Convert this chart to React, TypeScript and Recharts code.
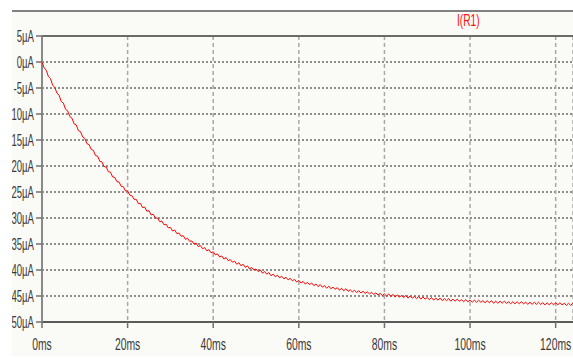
import React from "react";
import {
  LineChart,
  Line,
  XAxis,
  YAxis,
  CartesianGrid,
  ReferenceLine,
} from "recharts";

// simulator export, one sample every 0.5 ms
const SAMPLE_MS = 0.5;

const currentUA = [
  0.0, -1.1, -1.6, -2.8, -3.2, -4.5, -4.9, -6.0, -6.4, -7.6,
  -7.9, -9.1, -9.4, -10.5, -10.8, -11.9, -12.1, -13.2, -13.4, -14.4,
  -14.7, -15.7, -15.9, -16.8, -17.0, -18.0, -18.1, -19.1, -19.2, -20.1,
  -20.2, -21.1, -21.2, -22.1, -22.2, -23.0, -23.1, -23.9, -24.0, -24.8,
  -24.8, -25.6, -25.7, -26.4, -26.4, -27.2, -27.2, -28.0, -27.9, -28.7,
  -28.6, -29.4, -29.3, -30.0, -30.0, -30.7, -30.6, -31.3, -31.2, -31.9,
  -31.8, -32.5, -32.3, -33.0, -32.9, -33.5, -33.4, -34.1, -33.9, -34.5,
  -34.4, -35.0, -34.8, -35.5, -35.3, -35.9, -35.7, -36.3, -36.1, -36.7,
  -36.5, -37.1, -36.9, -37.5, -37.3, -37.9, -37.6, -38.2, -38.0, -38.5,
  -38.3, -38.9, -38.6, -39.2, -38.9, -39.5, -39.2, -39.8, -39.5, -40.0,
  -39.8, -40.3, -40.0, -40.6, -40.3, -40.8, -40.5, -41.1, -40.8, -41.3,
  -41.0, -41.5, -41.2, -41.7, -41.4, -41.9, -41.6, -42.1, -41.8, -42.3,
  -42.0, -42.5, -42.2, -42.7, -42.4, -42.8, -42.5, -43.0, -42.7, -43.2,
  -42.8, -43.3, -43.0, -43.5, -43.1, -43.6, -43.3, -43.7, -43.4, -43.9,
  -43.5, -44.0, -43.6, -44.1, -43.8, -44.2, -43.9, -44.3, -44.0, -44.4,
  -44.1, -44.5, -44.2, -44.6, -44.3, -44.7, -44.4, -44.8, -44.5, -44.9,
  -44.6, -45.0, -44.6, -45.1, -44.7, -45.2, -44.8, -45.2, -44.9, -45.3,
  -44.9, -45.4, -45.0, -45.4, -45.1, -45.5, -45.1, -45.6, -45.2, -45.6,
  -45.3, -45.7, -45.3, -45.8, -45.4, -45.8, -45.4, -45.9, -45.5, -45.9,
  -45.5, -46.0, -45.6, -46.0, -45.6, -46.0, -45.7, -46.1, -45.7, -46.1,
  -45.8, -46.2, -45.8, -46.2, -45.8, -46.2, -45.9, -46.3, -45.9, -46.3,
  -45.9, -46.4, -46.0, -46.4, -46.0, -46.4, -46.0, -46.4, -46.1, -46.5,
  -46.1, -46.5, -46.1, -46.5, -46.1, -46.5, -46.2, -46.6, -46.2, -46.6,
  -46.2, -46.6, -46.2, -46.6, -46.3, -46.7, -46.3, -46.7, -46.3, -46.7,
  -46.3, -46.7, -46.3, -46.7, -46.4, -46.8, -46.4, -46.8, -46.4,
];

const timeTicks = [0, 20, 40, 60, 80, 100, 120];
const currentTicks = [5, 0, -5, -10, -15, -20, -25, -30, -35, -40, -45, -50];
const traceName = "I(R1)";

const data = currentUA.map((v, i) => ({ t: i * SAMPLE_MS, i: v }));

const FONT = "'Liberation Sans', Arial, sans-serif";
const LABEL_COLOR = "#3a3a3a";

const XTick = (props: any) => {
  const { x, y, payload } = props;
  return (
    <g>
      <line x1={x} x2={x} y1={y - 8} y2={y - 2} stroke="#707070" strokeWidth={1.5} />
      <text
        transform={`translate(${x},${y + 20}) scale(0.65,1)`}
        textAnchor="middle"
        fontSize={16}
        fontFamily={FONT}
        fill={LABEL_COLOR}
      >
        {`${payload.value}ms`}
      </text>
    </g>
  );
};

const YTick = (props: any) => {
  const { x, y, payload } = props;
  return (
    <g>
      <line x1={x + 2} x2={x + 8} y1={y} y2={y} stroke="#707070" strokeWidth={1.5} />
      <text
        transform={`translate(${x - 0},${y + 5.7}) scale(0.6,1)`}
        textAnchor="end"
        fontSize={16}
        fontFamily={FONT}
        fill={LABEL_COLOR}
      >
        {`${payload.value}µA`}
      </text>
    </g>
  );
};

export default function App() {
  return (
    <div style={{ position: "absolute", left: 0, top: 0, width: 573, height: 358, background: "#ffffff" }}>
      <div
        style={{
          position: "absolute",
          left: 12,
          top: 10,
          width: 561,
          height: 346,
          background: "#fafaf6",
          borderTop: "2px solid #808080",
          boxSizing: "border-box",
        }}
      />
      <div
        style={{
          position: "absolute",
          left: 457,
          top: 11,
          fontFamily: FONT,
          fontSize: 17,
          color: "#ff1010",
          transform: "scaleX(0.6)",
          transformOrigin: "left top",
          whiteSpace: "nowrap",
        }}
      >
        {traceName}
      </div>
      <div style={{ position: "absolute", left: 12, top: 0 }}>
        <LineChart
          width={561}
          height={358}
          data={data}
          margin={{ top: 36, right: 0, left: 0, bottom: 0 }}
        >
          <CartesianGrid vertical={false} stroke="#6a6a6a" strokeDasharray="2 2" strokeWidth={1.5} />
          <CartesianGrid horizontal={false} stroke="#a8a8a8" strokeDasharray="4 3" strokeWidth={1.5} />
          <XAxis
            dataKey="t"
            type="number"
            domain={[0, 124.05]}
            ticks={timeTicks}
            allowDataOverflow
            height={36}
            axisLine={false}
            tickLine={false}
            tick={<XTick />}
            interval={0}
          />
          <YAxis
            type="number"
            domain={[-50, 5]}
            ticks={currentTicks}
            width={30}
            axisLine={false}
            tickLine={false}
            tick={<YTick />}
            interval={0}
          />
          <ReferenceLine y={5} stroke="#6a6a6a" strokeWidth={2} />
          <ReferenceLine y={-50} stroke="#5a5a5a" strokeWidth={2} />
          <ReferenceLine x={0} stroke="#8a8a8a" strokeWidth={2} />
          <Line
            type="linear"
            dataKey="i"
            stroke="#ff0000"
            strokeWidth={1}
            dot={false}
            isAnimationActive={false}
          />
        </LineChart>
      </div>
    </div>
  );
}
